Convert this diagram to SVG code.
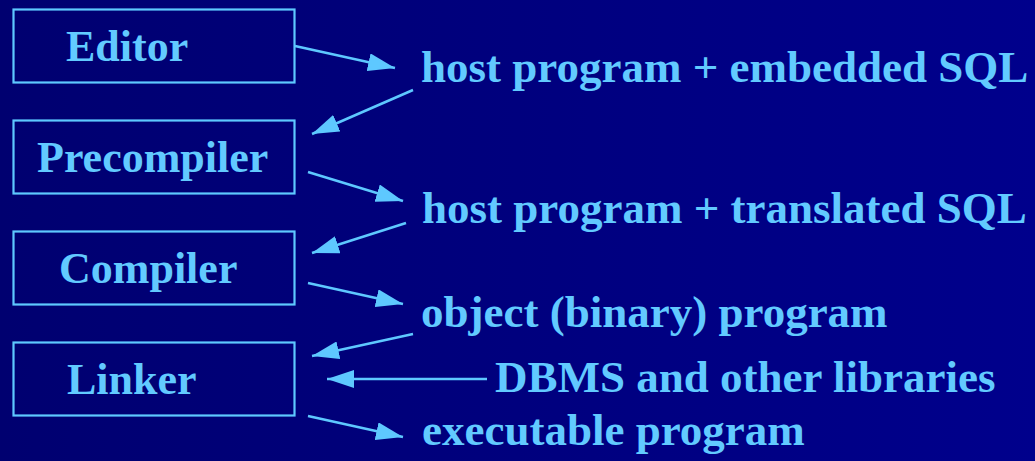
<svg xmlns="http://www.w3.org/2000/svg" width="1035" height="461" viewBox="0 0 1035 461">
  <defs>
    <linearGradient id="bg" x1="0" y1="0" x2="1" y2="0">
      <stop offset="0" stop-color="#000070"/>
      <stop offset="1" stop-color="#00008c"/>
    </linearGradient>
    <marker id="head" markerUnits="userSpaceOnUse" markerWidth="28" markerHeight="18" refX="27" refY="9" orient="auto">
      <path d="M0,0 L27,9 L0,18 Z" fill="#5ec8ff"/>
    </marker>
  </defs>
  <style>
    .box { fill: none; stroke: #5ec8ff; stroke-width: 2.2; }
    .lbl { font-family: "Liberation Serif", "Times New Roman", serif; font-weight: bold; fill: #62caff; }
    .node { font-size: 44px; }
    .out { font-size: 45px; }
    .conn line { stroke: #5ec8ff; stroke-width: 2.5; marker-end: url(#head); }
  </style>

  <rect width="1035" height="461" fill="url(#bg)"/>

  <!-- tool-chain stages -->
  <g id="editor">
    <rect class="box" x="13.5" y="9.5" width="281" height="73"/>
    <text class="lbl node" x="66" y="61">Editor</text>
  </g>
  <g id="precompiler">
    <rect class="box" x="13.5" y="120.5" width="281" height="73"/>
    <text class="lbl node" x="37" y="172">Precompiler</text>
  </g>
  <g id="compiler">
    <rect class="box" x="13.5" y="231.5" width="281" height="73"/>
    <text class="lbl node" x="59" y="283">Compiler</text>
  </g>
  <g id="linker">
    <rect class="box" x="13.5" y="342.5" width="281" height="73"/>
    <text class="lbl node" x="67" y="394">Linker</text>
  </g>

  <!-- intermediate artefacts -->
  <g id="embedded-src">
    <text class="lbl out" x="421" y="82">host program + embedded SQL</text>
  </g>
  <g id="translated-src">
    <text class="lbl out" x="422" y="223">host program + translated SQL</text>
  </g>
  <g id="object-code">
    <text class="lbl out" x="421" y="327">object (binary) program</text>
  </g>
  <g id="libraries">
    <text class="lbl out" x="495" y="392">DBMS and other libraries</text>
  </g>
  <g id="executable">
    <text class="lbl out" x="422" y="445">executable program</text>
  </g>

  <!-- data flow -->
  <g class="conn">
    <line x1="295" y1="46" x2="395" y2="68"/>
    <line x1="413" y1="90" x2="312" y2="134"/>
    <line x1="308" y1="172" x2="403" y2="201"/>
    <line x1="406" y1="223" x2="312" y2="253"/>
    <line x1="308" y1="283" x2="403" y2="304"/>
    <line x1="413" y1="334" x2="312" y2="356"/>
    <line x1="487" y1="379" x2="327" y2="379"/>
    <line x1="308" y1="416" x2="403" y2="437"/>
  </g>
</svg>
